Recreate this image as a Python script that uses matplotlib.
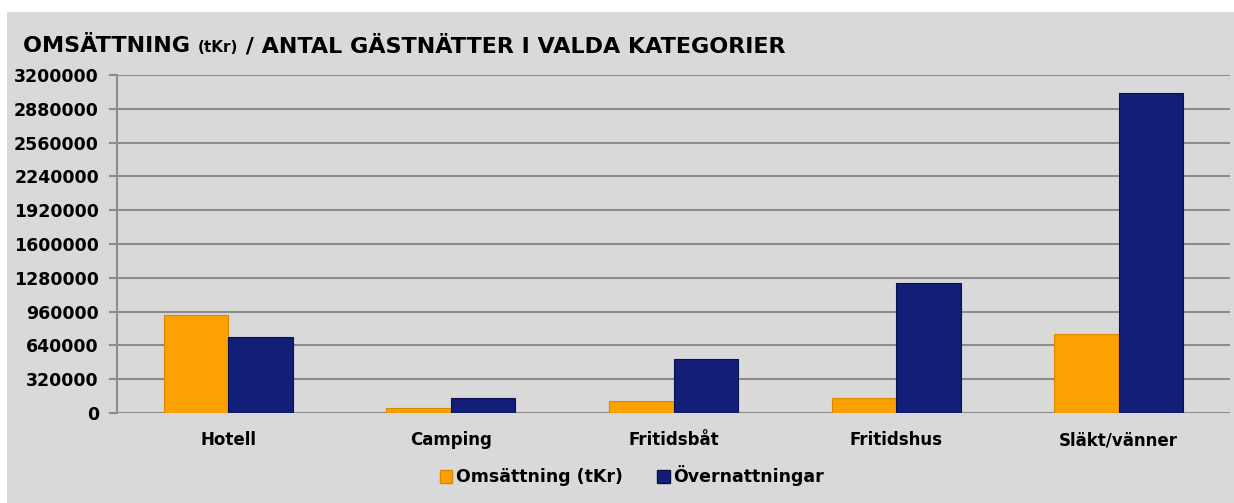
import matplotlib.pyplot as plt
import matplotlib.patches as mpatches
import numpy as np

categories = ['Hotell', 'Camping', 'Fritidsbåt', 'Fritidshus', 'Släkt/vänner']
omsattning = [928000, 47000, 114000, 142000, 748000]
overnattningar = [720000, 142000, 511000, 1231000, 3030000]
yticks = [0, 320000, 640000, 960000, 1280000, 1600000, 1920000, 2240000, 2560000, 2880000, 3200000]

orange = '#FDA102'
blue = '#121E78'
grid_c = '#8C8C8C'

W, H = 1234, 503
fig = plt.figure(figsize=(W / 100, H / 100), dpi=100)
fig.patch.set_facecolor('white')
# grey chart area
fig.patches.append(mpatches.Rectangle((7 / W, 0), 1 - 7 / W, 1 - 12 / H,
                                      transform=fig.transFigure, facecolor='#D9D9D9',
                                      edgecolor='none', zorder=-10))

ax = fig.add_axes([117 / W, 1 - 413 / H, (1230 - 117) / W, (413 - 75) / H])
ax.set_facecolor('none')

x = np.arange(len(categories))
w = 0.29
ax.bar(x - w / 2, omsattning, w, color=orange, edgecolor='#D88A00', linewidth=0.8, zorder=3)
ax.bar(x + w / 2, overnattningar, w, color=blue, edgecolor='#0A1250', linewidth=0.8, zorder=3)

ax.set_xlim(-0.5, len(categories) - 0.5)
ax.set_ylim(0, 3200000)
ax.set_yticks(yticks)
ax.set_yticklabels([str(v) for v in yticks], fontsize=12.5, fontweight='bold')
ax.set_xticks(x)
ax.set_xticklabels(categories, fontsize=12, fontweight='bold')
ax.tick_params(axis='x', length=0, pad=13)
ax.tick_params(axis='y', length=6, width=1.5, color=grid_c, pad=7)
ax.grid(axis='y', color=grid_c, linewidth=1.5, zorder=0)
for s in ['top', 'right', 'bottom']:
    ax.spines[s].set_visible(False)
ax.spines['left'].set_color(grid_c)
ax.spines['left'].set_linewidth(1.5)
ax.set_axisbelow(True)

# title with smaller "(tKr)"
t1 = fig.text(23 / W, 1 - 46 / H, 'OMSÄTTNING ', fontsize=16, fontweight='bold', va='center')
fig.canvas.draw()
bb = t1.get_window_extent()
t2 = fig.text(bb.x1 / W, 1 - 48 / H, '(tKr)', fontsize=11, fontweight='bold', va='center')
fig.canvas.draw()
bb2 = t2.get_window_extent()
fig.text(bb2.x1 / W, 1 - 46 / H, ' / ANTAL GÄSTNÄTTER I VALDA KATEGORIER', fontsize=16,
         fontweight='bold', va='center')

handles = [mpatches.Patch(facecolor=orange, edgecolor='#D88A00', label='Omsättning (tKr)'),
           mpatches.Patch(facecolor=blue, edgecolor='#0A1250', label='Övernattningar')]
fig.legend(handles=handles, loc='center', bbox_to_anchor=(632 / W, 1 - 476 / H), ncol=2,
           frameon=False, prop={'size': 12.5, 'weight': 'bold'}, handlelength=0.7,
           handleheight=0.7, handletextpad=0.2, columnspacing=2.0)

fig.savefig('out.png', dpi=100)
